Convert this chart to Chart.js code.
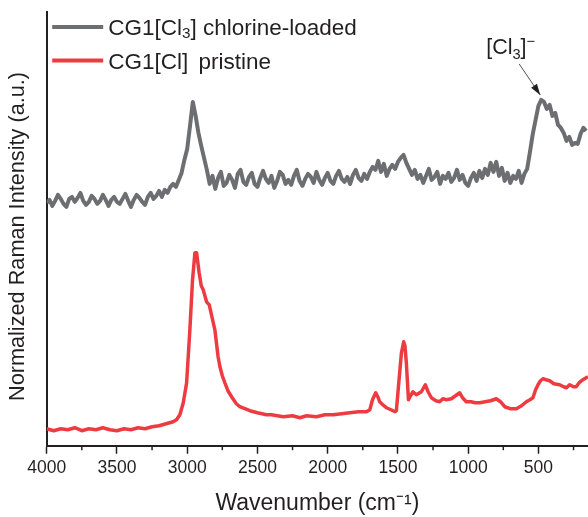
<!DOCTYPE html>
<html>
<head>
<meta charset="utf-8">
<script src="https://cdn.jsdelivr.net/npm/chart.js@4.4.1/dist/chart.umd.min.js"></script>
<style>
  html, body { margin: 0; padding: 0; background: #fff; }
  #wrap { width: 588px; height: 517px; position: relative; }
</style>
</head>
<body>
<div id="wrap"><canvas id="raman" width="588" height="517"></canvas></div>
<script>
// x ticks (wavenumber, cm-1)
const majorTicks = [4000, 3500, 3000, 2500, 2000, 1500, 1000, 500];
const minorTicks = [3750, 3250, 2750, 2250, 1750, 1250, 750, 250];

// chlorine-loaded spectrum, sampled every 20 cm-1 from 4000 down to 160
const grayWavenumbers = Array.from({ length: 193 }, (_, i) => 4000 - 20 * i);
const grayIntensity = [
  243, 246, 240, 245, 251, 247, 242, 239, 247, 249,
  244, 248, 253, 245, 241, 244, 250, 247, 242, 245,
  251, 246, 240, 246, 249, 244, 242, 247, 252, 245,
  239, 246, 251, 248, 244, 241, 249, 253, 247, 250,
  255, 249, 256, 253, 259, 262, 259, 266, 273, 286,
  297, 320, 344, 330, 313, 300, 288, 276, 262,
  270, 257, 268, 274, 260, 263, 271, 266, 258, 272,
  276, 264, 261, 269, 273, 262, 259, 268, 275, 267,
  263, 270, 258, 265, 274, 271, 262, 266, 261, 270,
  276, 265, 260, 267, 272, 269, 263, 274, 266, 261,
  268, 273, 265, 262, 270, 275, 267, 264, 269, 262,
  271, 276, 268, 265, 272, 267, 274,
  279, 276, 285, 274, 282, 270, 277, 281, 277, 284,
  288, 291, 283, 277, 271,
  276, 267, 271, 263, 270, 277, 266, 269, 274, 262,
  270, 267, 273, 264, 268, 276, 266, 271, 263, 260,
  268, 273, 265, 275, 268, 277, 271, 283, 274, 284,
  270, 278, 265, 273, 263, 270, 267, 275, 263, 272,
  277, 294, 312, 326, 340, 346, 344, 337, 341, 330,
  333, 321, 318, 313, 305, 309, 301, 303, 302, 312,
  318, 315
];

// pristine spectrum
const redWavenumbers = [
  4000, 3950, 3900, 3850, 3800, 3750, 3700, 3650, 3600, 3550,
  3500, 3450, 3400, 3350, 3300, 3250, 3200, 3150, 3100, 3076,
  3052, 3028, 3004, 2981, 2962, 2945, 2933, 2915, 2900, 2886,
  2862, 2843, 2827, 2803, 2780, 2767, 2750, 2732, 2710, 2684,
  2650, 2625, 2590, 2554, 2500, 2435, 2400, 2317, 2250, 2198,
  2150, 2080, 2020, 1962, 1900, 1843, 1780, 1724, 1700, 1681,
  1658, 1640, 1630, 1600, 1582, 1550, 1520, 1511, 1492, 1475,
  1459, 1450, 1440, 1425, 1410, 1393, 1369, 1333, 1305, 1285,
  1262, 1230, 1203, 1180, 1155, 1120, 1090, 1060, 1040, 1013,
  980, 950, 918, 880, 840, 800, 770, 740, 700, 657,
  620, 586, 560, 539, 520, 503, 485, 468, 445, 420,
  390, 349, 320, 300, 278, 250, 231, 210, 183, 160, 147
];
const redIntensity = [
  17, 15, 17, 16, 18, 15, 17, 16, 18, 16,
  15, 17, 16, 18, 17, 19, 20, 22, 24, 26,
  31, 43, 63, 116, 166, 193, 193, 173, 160, 156,
  144, 141, 131, 116, 89, 79, 70, 63, 55, 49,
  42, 39, 37, 35, 33, 31, 31, 29, 30, 28,
  30, 29, 31, 31, 32, 33, 34, 34, 36, 46,
  53, 48, 44, 40, 38, 36, 34, 35, 66, 93,
  104, 100, 83, 46, 50, 54, 51, 54, 61, 54,
  48, 45, 44, 47, 46, 47, 50, 53, 48, 44,
  44, 43, 43, 44, 45, 47, 44, 39, 37, 37,
  40, 44, 46, 48, 56, 61, 65, 67, 66, 65,
  62, 61, 59, 58, 61, 59, 59, 63, 66, 68, 69
];

const seriesNames = ['CG1[Cl3] chlorine-loaded', 'CG1[Cl] pristine'];
const seriesColors = ['#6d6e71', '#ee3b41'];

const FONT = '"Liberation Sans", Arial, Helvetica, sans-serif';
const INK = '#231f20';

function toPoints(xs, ys) {
  return xs.map((x, i) => ({ x: x, y: ys[i] }));
}

// draws text pieces: [text, 'n'|'sub'|'sup'|'gap']
function drawRich(ctx, x, y, pieces, size) {
  let cx = x;
  pieces.forEach(p => {
    const kind = p[1] || 'n';
    if (kind === 'gap') { cx += p[0]; return; }
    let fs = size, dy = 0;
    if (kind === 'sub') { fs = size * 0.68; dy = size * 0.22; }
    if (kind === 'sup') { fs = size * 0.68; dy = -size * 0.38; }
    ctx.font = fs + 'px ' + FONT;
    ctx.fillText(p[0], cx, y + dy);
    cx += ctx.measureText(p[0]).width;
  });
  return cx;
}

const decor = {
  id: 'decor',
  afterDraw(chart) {
    const { ctx, chartArea } = chart;
    const xs = chart.scales.x, ys = chart.scales.y;
    ctx.save();

    // minor ticks
    ctx.strokeStyle = INK;
    ctx.lineWidth = 1.5;
    minorTicks.forEach(v => {
      const px = xs.getPixelForValue(v);
      if (px < chartArea.left || px > chartArea.right) return;
      ctx.beginPath();
      ctx.moveTo(px, chartArea.bottom);
      ctx.lineTo(px, chartArea.bottom + 4.5);
      ctx.stroke();
    });

    // y axis title
    ctx.save();
    ctx.translate(18, 236.5);
    ctx.rotate(-Math.PI / 2);
    ctx.font = '21.7px ' + FONT;
    ctx.fillStyle = INK;
    ctx.textAlign = 'center';
    ctx.textBaseline = 'middle';
    ctx.fillText('Normalized Raman Intensity (a.u.)', 0, 0);
    ctx.restore();

    // legend
    const lx = chartArea.left + 5.5, ly = chartArea.top + 15;
    const texts = [
      [['CG1[Cl'], ['3', 'sub'], ['] chlorine-loaded']],
      [['CG1[Cl]'], [4, 'gap'], [' pristine']]
    ];
    ctx.textBaseline = 'middle';
    for (let i = 0; i < 2; i++) {
      const y = ly + i * 33.5;
      ctx.strokeStyle = seriesColors[i];
      ctx.lineWidth = 4;
      ctx.beginPath();
      ctx.moveTo(lx, y);
      ctx.lineTo(lx + 51, y);
      ctx.stroke();
      ctx.fillStyle = INK;
      drawRich(ctx, lx + 56, y + 2, texts[i], 22.5);
    }

    // [Cl3]- annotation with arrow to the band near 470 cm-1
    const peakX = 480, peakY = grayIntensity[grayWavenumbers.indexOf(480)];
    const tipX = xs.getPixelForValue(peakX) - 1;
    const tipY = ys.getPixelForValue(peakY) - 5;
    const sx = tipX - 21, sy = tipY - 31;
    ctx.strokeStyle = INK;
    ctx.lineWidth = 0.8;
    ctx.beginPath();
    ctx.moveTo(sx, sy);
    ctx.lineTo(tipX, tipY);
    ctx.stroke();
    const ang = Math.atan2(tipY - sy, tipX - sx);
    ctx.fillStyle = INK;
    ctx.beginPath();
    ctx.moveTo(tipX, tipY);
    ctx.lineTo(tipX - 11 * Math.cos(ang) + 3.5 * Math.sin(ang), tipY - 11 * Math.sin(ang) - 3.5 * Math.cos(ang));
    ctx.lineTo(tipX - 11 * Math.cos(ang) - 3.5 * Math.sin(ang), tipY - 11 * Math.sin(ang) + 3.5 * Math.cos(ang));
    ctx.closePath();
    ctx.fill();
    ctx.textBaseline = 'alphabetic';
    drawRich(ctx, sx - 33, sy - 10, [['[Cl'], ['3', 'sub'], [']'], ['\u2212', 'sup']], 21.5);

    ctx.restore();
  }
};

new Chart(document.getElementById('raman'), {
  type: 'line',
  data: {
    datasets: [
      { label: seriesNames[0], data: toPoints(grayWavenumbers, grayIntensity), borderColor: seriesColors[0], borderWidth: 4, borderJoinStyle: 'round', pointRadius: 0, tension: 0 },
      { label: seriesNames[1], data: toPoints(redWavenumbers, redIntensity), borderColor: seriesColors[1], borderWidth: 3.5, borderJoinStyle: 'round', pointRadius: 0, tension: 0 }
    ]
  },
  options: {
    responsive: false,
    animation: false,
    devicePixelRatio: 1,
    layout: { padding: { top: 12, right: 0, bottom: 0, left: 0 } },
    plugins: { legend: { display: false }, tooltip: { enabled: false } },
    scales: {
      x: {
        type: 'linear',
        reverse: true,
        min: 147,
        max: 4000,
        afterBuildTicks: s => { s.ticks = majorTicks.map(v => ({ value: v })); },
        afterFit: s => { s.height = 71.3; },
        ticks: { color: INK, font: { family: FONT, size: 17.5 }, padding: 4, maxRotation: 0, autoSkip: false, callback: v => String(v) },
        grid: { display: true, drawOnChartArea: false, drawTicks: true, tickLength: 8, tickWidth: 1.5, tickColor: INK },
        border: { display: true, color: INK, width: 2 },
        title: { display: true, text: 'Wavenumber (cm\u207B\u00B9)', color: INK, font: { family: FONT, size: 23 }, padding: { top: 0, bottom: 0 } }
      },
      y: {
        min: 0,
        max: 434,
        afterFit: s => { s.width = 46.7; },
        ticks: { display: false },
        grid: { display: false },
        border: { display: true, color: INK, width: 2 },
        title: { display: false }
      }
    }
  },
  plugins: [decor]
});
</script>
</body>
</html>
